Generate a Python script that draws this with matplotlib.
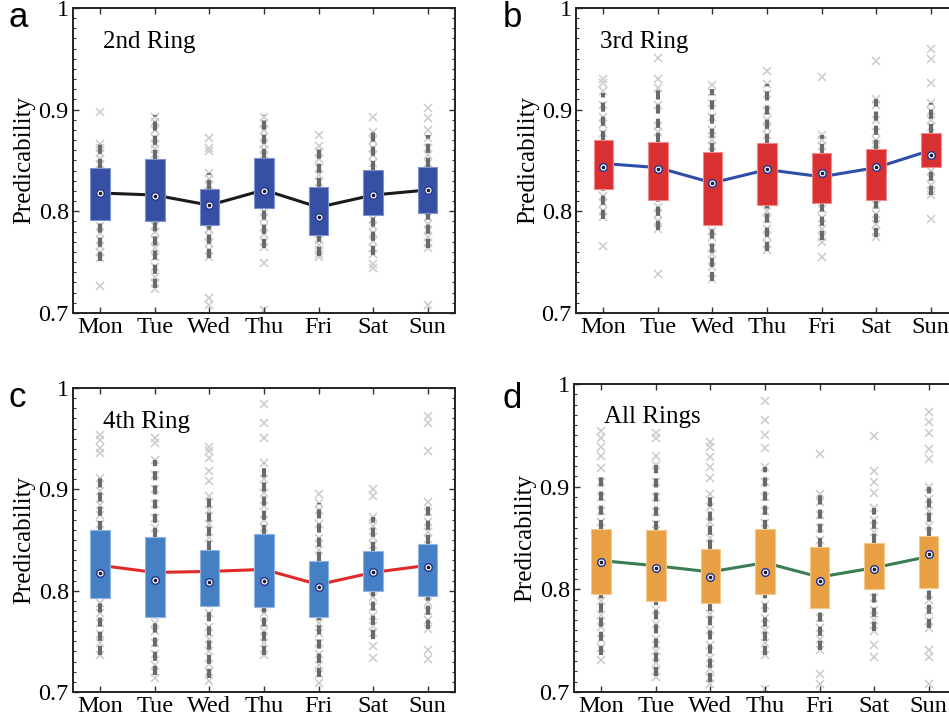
import numpy as np
import matplotlib.pyplot as plt
from matplotlib.ticker import MultipleLocator

days = ['Mon', 'Tue', 'Wed', 'Thu', 'Fri', 'Sat', 'Sun']
titles = ['2nd Ring', '3rd Ring', '4th Ring', 'All Rings']
letters = ['a', 'b', 'c', 'd']

# box stats per panel: lower quartile, median, upper quartile, whisker ends, mean (line)
a_q1 = [0.791, 0.790, 0.787, 0.803, 0.777, 0.796, 0.798]
a_med = [0.818, 0.815, 0.806, 0.820, 0.794, 0.816, 0.821]
a_q3 = [0.843, 0.851, 0.822, 0.852, 0.824, 0.841, 0.844]
a_lo = [0.751, 0.725, 0.754, 0.764, 0.756, 0.757, 0.764]
a_hi = [0.867, 0.895, 0.838, 0.895, 0.864, 0.879, 0.875]
a_mean = [0.818, 0.816, 0.806, 0.821, 0.804, 0.816, 0.821]
a_pts = [
    [0.898, 0.866, 0.862, 0.857, 0.851, 0.847, 0.786, 0.779, 0.772, 0.766, 0.760, 0.754, 0.727],
    [0.893, 0.888, 0.880, 0.872, 0.866, 0.861, 0.856, 0.786, 0.780, 0.772, 0.764, 0.755, 0.745, 0.735, 0.729, 0.724],
    [0.872, 0.862, 0.859, 0.838, 0.832, 0.826, 0.783, 0.776, 0.769, 0.762, 0.755, 0.715, 0.708],
    [0.893, 0.887, 0.880, 0.873, 0.866, 0.860, 0.855, 0.799, 0.793, 0.785, 0.778, 0.770, 0.765, 0.749, 0.703],
    [0.875, 0.864, 0.858, 0.851, 0.843, 0.836, 0.829, 0.772, 0.767, 0.762, 0.758, 0.755],
    [0.893, 0.878, 0.870, 0.862, 0.855, 0.848, 0.792, 0.786, 0.779, 0.771, 0.764, 0.758, 0.748, 0.744],
    [0.902, 0.892, 0.880, 0.872, 0.862, 0.855, 0.848, 0.794, 0.788, 0.782, 0.775, 0.769, 0.764, 0.708],
]

b_q1 = [0.822, 0.811, 0.787, 0.806, 0.808, 0.811, 0.844]
b_med = [0.844, 0.842, 0.828, 0.842, 0.838, 0.844, 0.855]
b_q3 = [0.870, 0.868, 0.858, 0.867, 0.857, 0.861, 0.877]
b_lo = [0.792, 0.782, 0.731, 0.761, 0.772, 0.775, 0.816]
b_hi = [0.916, 0.920, 0.920, 0.925, 0.875, 0.910, 0.907]
b_mean = [0.847, 0.843, 0.828, 0.841, 0.834, 0.843, 0.860]
b_pts = [
    [0.930, 0.926, 0.918, 0.905, 0.893, 0.886, 0.877, 0.815, 0.808, 0.800, 0.794, 0.766],
    [0.951, 0.930, 0.921, 0.905, 0.884, 0.878, 0.804, 0.797, 0.790, 0.783, 0.738],
    [0.924, 0.917, 0.907, 0.893, 0.880, 0.870, 0.864, 0.781, 0.775, 0.764, 0.758, 0.745, 0.733],
    [0.938, 0.925, 0.915, 0.899, 0.890, 0.882, 0.875, 0.800, 0.792, 0.783, 0.776, 0.768, 0.762],
    [0.932, 0.875, 0.870, 0.864, 0.802, 0.793, 0.783, 0.775, 0.770, 0.755],
    [0.948, 0.910, 0.905, 0.890, 0.878, 0.870, 0.866, 0.806, 0.797, 0.788, 0.780, 0.775],
    [0.960, 0.950, 0.926, 0.907, 0.899, 0.890, 0.883, 0.840, 0.833, 0.826, 0.820, 0.816, 0.792],
]

c_q1 = [0.793, 0.774, 0.785, 0.784, 0.774, 0.800, 0.795]
c_med = [0.817, 0.811, 0.809, 0.810, 0.804, 0.818, 0.823]
c_q3 = [0.860, 0.853, 0.840, 0.856, 0.829, 0.839, 0.846]
c_lo = [0.737, 0.717, 0.714, 0.737, 0.715, 0.752, 0.762]
c_hi = [0.911, 0.929, 0.893, 0.926, 0.887, 0.873, 0.888]
c_mean = [0.825, 0.818, 0.819, 0.821, 0.806, 0.818, 0.825]
c_pts = [
    [0.954, 0.949, 0.941, 0.936, 0.911, 0.898, 0.885, 0.875, 0.866, 0.788, 0.778, 0.768, 0.757, 0.748, 0.737],
    [0.951, 0.946, 0.929, 0.914, 0.900, 0.886, 0.872, 0.862, 0.768, 0.760, 0.748, 0.738, 0.727, 0.720, 0.714],
    [0.942, 0.938, 0.931, 0.918, 0.908, 0.893, 0.880, 0.866, 0.852, 0.778, 0.764, 0.752, 0.740, 0.728, 0.720, 0.711],
    [0.984, 0.965, 0.951, 0.926, 0.910, 0.896, 0.884, 0.870, 0.862, 0.778, 0.768, 0.760, 0.748, 0.737],
    [0.895, 0.887, 0.880, 0.866, 0.852, 0.840, 0.768, 0.758, 0.748, 0.738, 0.727, 0.718, 0.709],
    [0.900, 0.893, 0.873, 0.864, 0.853, 0.845, 0.794, 0.784, 0.775, 0.765, 0.758, 0.745, 0.734],
    [0.972, 0.965, 0.938, 0.888, 0.878, 0.868, 0.858, 0.851, 0.789, 0.780, 0.771, 0.762, 0.741, 0.733],
]

d_q1 = [0.795, 0.789, 0.787, 0.795, 0.782, 0.800, 0.801]
d_med = [0.827, 0.821, 0.812, 0.817, 0.808, 0.820, 0.834]
d_q3 = [0.859, 0.858, 0.839, 0.859, 0.841, 0.845, 0.852]
d_lo = [0.736, 0.716, 0.710, 0.736, 0.741, 0.759, 0.762]
d_hi = [0.911, 0.921, 0.893, 0.919, 0.893, 0.879, 0.900]
d_mean = [0.828, 0.823, 0.817, 0.826, 0.812, 0.821, 0.832]
d_pts = [
    [0.954, 0.947, 0.939, 0.930, 0.918, 0.905, 0.890, 0.876, 0.866, 0.789, 0.775, 0.763, 0.752, 0.743, 0.731],
    [0.952, 0.947, 0.930, 0.921, 0.905, 0.890, 0.875, 0.864, 0.780, 0.766, 0.752, 0.740, 0.728, 0.720, 0.715],
    [0.944, 0.939, 0.929, 0.919, 0.908, 0.893, 0.880, 0.866, 0.850, 0.776, 0.760, 0.746, 0.733, 0.722, 0.714, 0.708],
    [0.983, 0.965, 0.950, 0.938, 0.919, 0.905, 0.890, 0.876, 0.865, 0.785, 0.772, 0.760, 0.748, 0.736, 0.703],
    [0.932, 0.893, 0.885, 0.872, 0.860, 0.848, 0.772, 0.762, 0.752, 0.741, 0.718, 0.708],
    [0.949, 0.915, 0.905, 0.894, 0.879, 0.868, 0.856, 0.792, 0.780, 0.770, 0.759, 0.746, 0.734],
    [0.973, 0.963, 0.952, 0.937, 0.927, 0.900, 0.888, 0.876, 0.862, 0.790, 0.779, 0.769, 0.762, 0.741, 0.734, 0.708],
]

box_colors = ['#3650a4', '#d93131', '#4580c4', '#e9a044']
edge_colors = ['#7f93cf', '#f08a8a', '#8fb6e3', '#f3c98c']
line_colors = ['#1a1a1a', '#2f4ea8', '#e02a2a', '#3a7d52']

# axes rectangles in figure fractions (left, bottom, width, height)
rects = [
    [0.0769, 0.5683, 0.4025, 0.4207],
    [0.6070, 0.5683, 0.4025, 0.4207],
    [0.0769, 0.0455, 0.4025, 0.4193],
    [0.6048, 0.0455, 0.4025, 0.4248],
]
letter_pos = [(8, 27), (503, 27), (8, 407), (503, 408)]
title_pos = [(0.078, 0.869), (0.063, 0.869), (0.078, 0.868), (0.079, 0.873)]

panels = [
    (a_q1, a_med, a_q3, a_lo, a_hi, a_mean, a_pts),
    (b_q1, b_med, b_q3, b_lo, b_hi, b_mean, b_pts),
    (c_q1, c_med, c_q3, c_lo, c_hi, c_mean, c_pts),
    (d_q1, d_med, d_q3, d_lo, d_hi, d_mean, d_pts),
]

plt.rcParams['font.family'] = 'Liberation Serif'

fig = plt.figure(figsize=(9.49, 7.25), dpi=100)
x = np.arange(1, len(days) + 1)
bw = 0.36

for i, (q1, med, q3, lo, hi, mean, pts) in enumerate(panels):
    ax = fig.add_axes(rects[i])
    # scatter of individual values
    for k in range(len(days)):
        ax.plot([x[k]] * len(pts[k]), pts[k], 'x', color='#cbcbcb', ms=6, mew=1.1, zorder=1)
    # whiskers
    for k in range(len(days)):
        ax.plot([x[k], x[k]], [q3[k], hi[k]], color='#6a6a6a', lw=3, ls=(0, (2.2, 1.2)), zorder=2)
        ax.plot([x[k], x[k]], [lo[k], q1[k]], color='#6a6a6a', lw=3, ls=(0, (2.2, 1.2)), zorder=2)
    # mean line behind boxes
    ax.plot(x, mean, color=line_colors[i], lw=2.2, zorder=3)
    # boxes
    ax.bar(x, np.array(q3) - np.array(q1), bottom=q1, width=bw,
           color=box_colors[i], edgecolor=edge_colors[i], linewidth=0.8, zorder=4)
    # medians
    ax.plot(x, med, 'o', mfc='white', mec='#2a3a90', ms=5.5, mew=1.1, zorder=5)
    ax.plot(x, med, 'o', color='#1a1a2a', ms=1.6, zorder=6)

    ax.set_xlim(0.5, 7.5)
    ax.set_ylim(0.7, 1.0)
    ax.set_xticks(x)
    ax.set_xticklabels(days)
    ax.set_yticks([0.7, 0.8, 0.9, 1.0])
    ax.set_yticklabels(['0.7', '0.8', '0.9', '1'])
    ax.yaxis.set_minor_locator(MultipleLocator(0.01))
    ax.tick_params(which='both', direction='in', top=True, right=True, labelsize=17.5, pad=3, color='#333333')
    ax.tick_params(which='major', length=4, width=1)
    ax.tick_params(which='minor', length=2, width=0.8)
    ax.tick_params(axis='x', which='minor', bottom=False, top=False)
    for s in ax.spines.values():
        s.set_linewidth(1.4)
        s.set_color('#222222')
    ax.set_ylabel('Predicability', fontsize=18, labelpad=2)
    ax.text(title_pos[i][0], title_pos[i][1], titles[i], transform=ax.transAxes, fontsize=18, va='baseline')

    lx, ly = letter_pos[i]
    fig.text(lx / 949, 1 - ly / 725, letters[i], fontsize=25, family='Liberation Sans', va='baseline')

fig.savefig('out.png', dpi=100)
